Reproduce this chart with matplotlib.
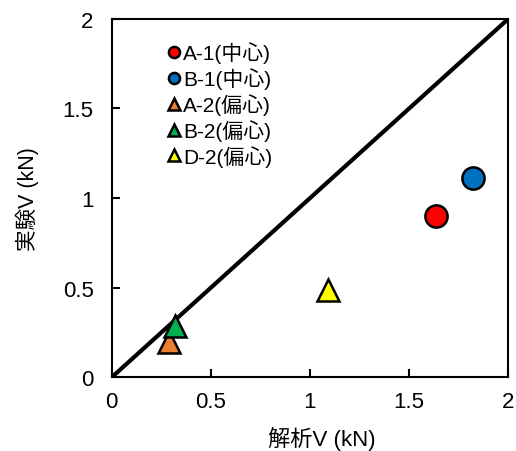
import matplotlib
matplotlib.use("Agg")
import matplotlib.pyplot as plt

plt.rcParams['font.family'] = ['Liberation Sans', 'Noto Sans CJK JP']

labels = ['A-1(中心)', 'B-1(中心)', 'A-2(偏心)', 'B-2(偏心)', 'D-2(偏心)']
x_vals = [1.635, 1.82, 0.29, 0.32, 1.09]
y_vals = [0.90, 1.11, 0.195, 0.285, 0.485]
markers = ['o', 'o', '^', '^', '^']
colors = ['#ff0000', '#0070c0', '#ed7d31', '#00b050', '#ffff00']
ticks = [0, 0.5, 1, 1.5, 2]
tick_labels = ['0', '0.5', '1', '1.5', '2']

fig = plt.figure(figsize=(5.16, 4.52), dpi=100)
ax = fig.add_axes([0.2165, 0.163, 0.7685, 0.793])

ax.plot([0, 2], [0, 2], color='black', lw=3, zorder=2)
for x, y, m, c, l in zip(x_vals, y_vals, markers, colors, labels):
    ax.plot([x], [y], marker=m, ms=16, mfc=c, mec='black', mew=1.8,
            ls='none', label=l, zorder=3, clip_on=False)

ax.set_xlim(0, 2)
ax.set_ylim(0, 2)
ax.set_xticks(ticks)
ax.set_xticklabels(tick_labels)
ax.set_yticks(ticks)
ax.set_yticklabels(tick_labels)
ax.tick_params(direction='in', length=6, width=1.5, labelsize=16)
ax.tick_params(axis='x', pad=10)
ax.tick_params(axis='y', pad=13)
for s in ax.spines.values():
    s.set_linewidth(1.5)

ax.set_xlabel('解析V (kN)', fontsize=16, labelpad=10)
ax.xaxis.set_label_coords(0.53, -0.135, transform=ax.transAxes)
ax.set_ylabel('実験V (kN)', fontsize=15.5, labelpad=17)

leg = ax.legend(loc='upper left', bbox_to_anchor=(0.117, 0.967), frameon=False,
                fontsize=15, markerscale=0.5, handlelength=0.5, handletextpad=0.2,
                labelspacing=0.2, borderpad=0)

fig.savefig('out.png', dpi=100)
